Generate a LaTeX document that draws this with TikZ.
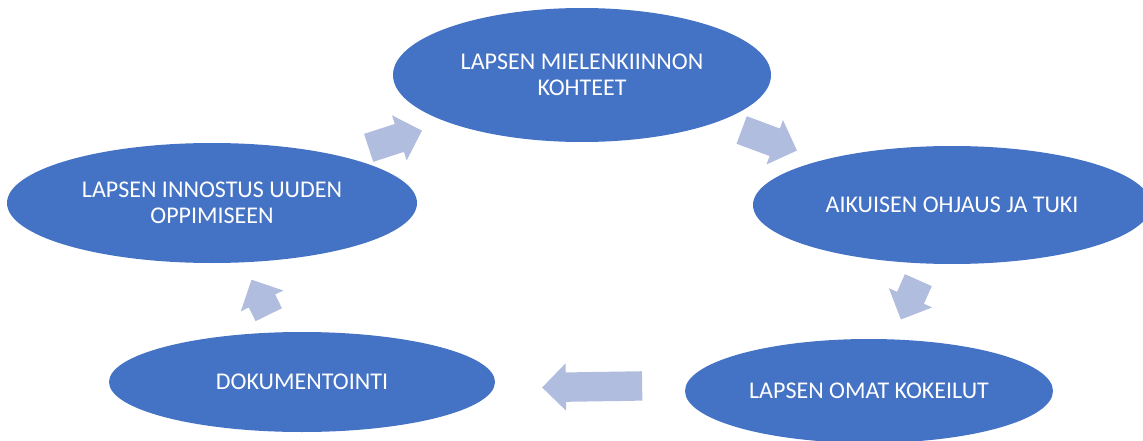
\documentclass[tikz,border=0pt]{standalone}
\usepackage{fontspec}
\setmainfont{Carlito}
\usepackage{tikz}
\usetikzlibrary{shapes.geometric,shapes.arrows}

\definecolor{stageblue}{RGB}{68,114,196}
\definecolor{arrowblue}{RGB}{176,189,222}

\tikzset{
  stage/.style={ellipse, fill=stageblue, text=white, align=center, inner sep=0pt,
    font=\fontsize{24}{26}\selectfont},
  cyclearrow/.style={single arrow, fill=arrowblue, inner sep=0pt,
    single arrow head extend=9pt}
}

\begin{document}
\begin{tikzpicture}[x=1pt, y=-1pt]

        \useasboundingbox (0,0) rectangle (1143,441);

        % ellipses of the cycle
        \node [stage, minimum width=378pt, minimum height=134pt] (kohteet) at (582,75) {LAPSEN MIELENKIINNON\\KOHTEET};
        \node [stage, minimum width=398pt, minimum height=118pt] (ohjaus) at (952,205) {AIKUISEN OHJAUS JA TUKI};
        \node [stage, minimum width=368pt, minimum height=104pt] (kokeilut) at (869,391) {LAPSEN OMAT KOKEILUT};
        \node [stage, minimum width=386pt, minimum height=100pt] (dokumentointi) at (302,382) {DOKUMENTOINTI};
        \node [stage, minimum width=410pt, minimum height=120pt] (innostus) at (212,203) {LAPSEN INNOSTUS UUDEN\\OPPIMISEEN};

        % arrows between them
        \node [cyclearrow, minimum height=56pt, rotate=18] (a1) at (388.3,141.5) {\rule{0pt}{29pt}};
        \node [cyclearrow, minimum height=59pt, rotate=-20.4] (a2) at (762.4,137.7) {\rule{0pt}{29pt}};
        \node [cyclearrow, minimum height=43pt, rotate=246] (a3) at (912.6,293.1) {\rule{0pt}{29pt}};
        \node [cyclearrow, minimum height=100pt, rotate=180.9] (a4) at (599.5,386.6) {\rule{0pt}{29pt}};
        \node [cyclearrow, minimum height=39pt, rotate=116.2] (a5) at (263.4,303.8) {\rule{0pt}{29pt}};

\end{tikzpicture}
\end{document}
